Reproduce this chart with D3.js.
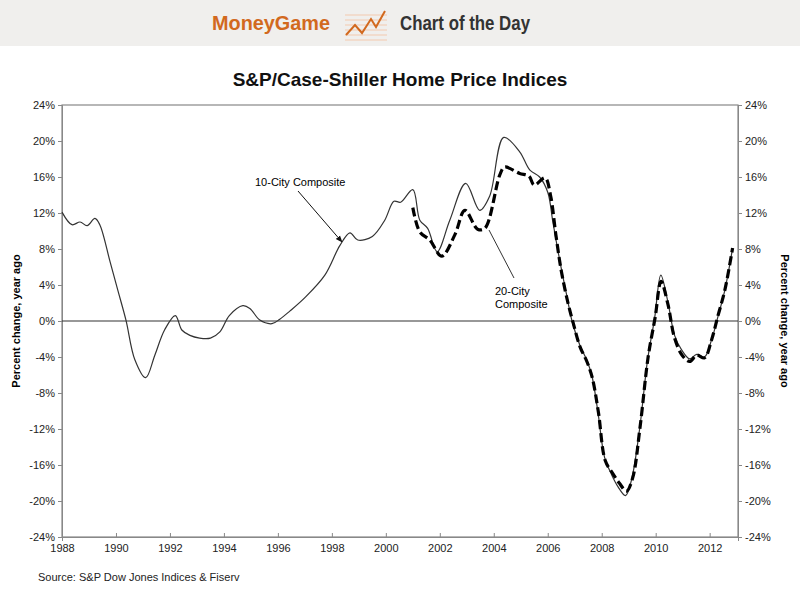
<!DOCTYPE html>
<html lang="en">
<head>
  <meta charset="UTF-8">
  <title>S&amp;P/Case-Shiller Home Price Indices</title>
  <style>
    body { margin: 0; background: #fff; }
    svg { display: block; }
    text { font-family: "Liberation Sans", Arial, sans-serif; }
    .tick text { font-size: 11px; fill: #222; }
  </style>
</head>
<body>
  <svg width="800" height="596"></svg>
  <script src="https://d3js.org/d3.v7.min.js"></script>
  <script>
    // 10-City Composite, % change year ago
    const years10 = [1988.0, 1988.37, 1988.67, 1988.93, 1989.22, 1989.4, 1989.78, 1990.07, 1990.37, 1990.7,
      1991.1, 1991.44, 1991.8, 1992.2, 1992.44, 1992.74, 1993.1, 1993.5, 1993.85, 1994.2,
      1994.7, 1994.96, 1995.33, 1995.78, 1996.07, 1996.44, 1997.0, 1997.74, 1998.3, 1998.67,
      1998.96, 1999.5, 1999.96, 2000.3, 2000.55, 2001.0, 2001.26, 2001.55, 2001.9, 2002.37,
      2002.96, 2003.48, 2003.85, 2004.37, 2004.96, 2005.33, 2005.7, 2006.0, 2006.19, 2006.44,
      2006.7, 2006.9, 2007.19, 2007.44, 2007.63, 2007.85, 2008.11, 2008.37, 2008.6, 2008.88,
      2009.1, 2009.4, 2009.7, 2009.96, 2010.19, 2010.44, 2010.7, 2010.96, 2011.26, 2011.52,
      2011.81, 2012.07, 2012.3, 2012.56, 2012.85];
    const values10 = [12.1, 10.7, 11.0, 10.6, 11.4, 10.7, 6.6, 3.4, 0.1, -4.3,
      -6.3, -3.8, -1.0, 0.6, -1.0, -1.6, -1.9, -1.9, -1.2, 0.6,
      1.7, 1.4, 0.1, -0.3, 0.2, 1.1, 2.6, 5.1, 8.4, 9.8,
      9.0, 9.4, 11.2, 13.3, 13.2, 14.6, 11.2, 10.3, 7.7, 11.2,
      15.3, 12.3, 13.9, 20.4, 18.8, 16.8, 16.0, 14.3, 11.0, 6.8,
      2.9, 0.0, -2.7, -4.3, -6.0, -9.9, -15.2, -17.1, -18.4, -19.4,
      -17.7, -12.1, -4.3, 0.3, 5.1, 2.3, -1.6, -3.2, -4.2, -3.7,
      -4.0, -2.1, 0.4, 3.4, 8.1];
    // 20-City Composite
    const years20 = [2001.0, 2001.26, 2001.63, 2002.07, 2002.56, 2002.93, 2003.4, 2003.67, 2004.22, 2004.4,
      2004.96, 2005.3, 2005.5, 2005.9, 2006.1, 2006.3, 2006.5, 2006.75, 2006.95, 2007.2,
      2007.45, 2007.65, 2007.88, 2008.13, 2008.4, 2008.65, 2008.92, 2009.15, 2009.42, 2009.72,
      2009.98, 2010.2, 2010.45, 2010.7, 2010.98, 2011.26, 2011.52, 2011.81, 2012.07, 2012.3,
      2012.56, 2012.85];
    const values20 = [12.6, 9.9, 9.0, 7.2, 9.6, 12.3, 10.2, 10.3, 16.2, 17.1,
      16.4, 16.1, 15.1, 15.9, 14.0, 9.6, 5.6, 2.0, -0.3, -2.9,
      -4.5, -6.3, -10.2, -15.5, -16.9, -18.0, -18.9, -17.4, -11.8, -4.0,
      0.4, 4.4, 1.9, -1.9, -3.8, -4.5, -3.8, -4.1, -2.1, 0.5,
      3.4, 8.1];
    const yTicks = [-24, -20, -16, -12, -8, -4, 0, 4, 8, 12, 16, 20, 24];
    const xTicks = [1988, 1990, 1992, 1994, 1996, 1998, 2000, 2002, 2004, 2006, 2008, 2010, 2012];

    const svg = d3.select("svg");
    const L = 62, R = 738, T = 105, B = 537;

    // header band
    svg.append("rect").attr("width", 800).attr("height", 46).attr("fill", "#f0efed");
    svg.append("text").attr("x", 212).attr("y", 30).attr("font-size", 20).attr("font-weight", "bold")
      .attr("fill", "#d2691e").attr("textLength", 118).attr("lengthAdjust", "spacingAndGlyphs")
      .text("MoneyGame");
    // small icon
    const ic = svg.append("g").attr("transform", "translate(343,5)");
    for (let i = 0; i < 6; i++) ic.append("line").attr("x1", 2).attr("x2", 44).attr("y1", 10 + i * 5).attr("y2", 10 + i * 5)
      .attr("stroke", "#f3c9ae").attr("stroke-width", 1);
    ic.append("path").attr("d", "M3,30 L12,20 L19,28 L28,14 L33,22 L42,6").attr("fill", "none")
      .attr("stroke", "#d2691e").attr("stroke-width", 2);
    svg.append("text").attr("x", 400).attr("y", 30).attr("font-size", 20).attr("font-weight", "bold")
      .attr("fill", "#333").attr("textLength", 130).attr("lengthAdjust", "spacingAndGlyphs")
      .text("Chart of the Day");

    svg.append("text").attr("x", 400).attr("y", 86).attr("text-anchor", "middle")
      .attr("font-size", 19).attr("font-weight", "bold").attr("fill", "#111")
      .text("S&P/Case-Shiller Home Price Indices");

    const x = d3.scaleLinear().domain([1988, 2013.05]).range([L, R]);
    const y = d3.scaleLinear().domain([-24, 24]).range([B, T]);

    svg.append("rect").attr("x", L).attr("y", T).attr("width", R - L).attr("height", B - T)
      .attr("fill", "none").attr("stroke", "#888").attr("stroke-width", 1.2);

    const yl = svg.append("g").attr("transform", `translate(${L},0)`)
      .call(d3.axisLeft(y).tickValues(yTicks).tickSize(4).tickFormat(d => d + "%"));
    const yr = svg.append("g").attr("transform", `translate(${R},0)`)
      .call(d3.axisRight(y).tickValues(yTicks).tickSize(4).tickFormat(d => d + "%"));
    const xa = svg.append("g").attr("transform", `translate(0,${B})`)
      .call(d3.axisBottom(x).tickValues(xTicks).tickSize(4).tickFormat(d3.format("d")));
    [yl, yr, xa].forEach(a => { a.select(".domain").attr("stroke", "#888"); a.selectAll(".tick line").attr("stroke", "#888"); });
    xa.selectAll(".tick line").attr("y2", -4);

    svg.append("line").attr("x1", L).attr("x2", R).attr("y1", y(0)).attr("y2", y(0))
      .attr("stroke", "#333").attr("stroke-width", 1.2);

    svg.append("text").attr("transform", `translate(20,${y(0)}) rotate(-90)`).attr("text-anchor", "middle")
      .attr("font-size", 11).attr("font-weight", "bold").text("Percent change, year ago");
    svg.append("text").attr("transform", `translate(781,${y(0)}) rotate(90)`).attr("text-anchor", "middle")
      .attr("font-size", 11).attr("font-weight", "bold").text("Percent change, year ago");

    const line = d3.line().x(d => x(d[0])).y(d => y(d[1])).curve(d3.curveCatmullRom.alpha(0.5));
    svg.append("path").datum(d3.zip(years10, values10)).attr("d", line)
      .attr("fill", "none").attr("stroke", "#333").attr("stroke-width", 1.2);
    svg.append("path").datum(d3.zip(years20, values20)).attr("d", line)
      .attr("fill", "none").attr("stroke", "#000").attr("stroke-width", 3.2).attr("stroke-dasharray", "9,4");

    // annotations
    svg.append("defs").append("marker").attr("id", "ar").attr("viewBox", "0 0 10 10").attr("refX", 9).attr("refY", 5)
      .attr("markerWidth", 7).attr("markerHeight", 7).attr("orient", "auto")
      .append("path").attr("d", "M0,1 L10,5 L0,9 z").attr("fill", "#111");
    svg.append("text").attr("x", 255).attr("y", 186).attr("font-size", 11).text("10-City Composite");
    svg.append("line").attr("x1", 298).attr("y1", 191).attr("x2", 342).attr("y2", 242)
      .attr("stroke", "#111").attr("stroke-width", 1).attr("marker-end", "url(#ar)");
    svg.append("text").attr("x", 495).attr("y", 295).attr("font-size", 11).text("20-City");
    svg.append("text").attr("x", 495).attr("y", 308).attr("font-size", 11).text("Composite");
    svg.append("line").attr("x1", 514).attr("y1", 278).attr("x2", 489).attr("y2", 230)
      .attr("stroke", "#333").attr("stroke-width", 1);

    svg.append("text").attr("x", 38).attr("y", 581).attr("font-size", 11).attr("fill", "#222")
      .text("Source: S&P Dow Jones Indices & Fiserv");
  </script>
</body>
</html>
